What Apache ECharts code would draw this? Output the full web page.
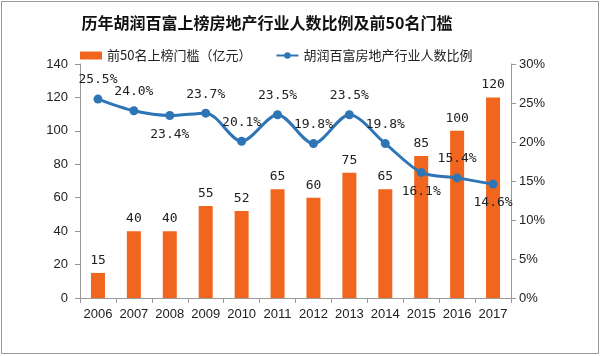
<!DOCTYPE html>
<html><head><meta charset="utf-8">
<script src="https://cdn.jsdelivr.net/npm/echarts@6/dist/echarts.min.js"></script>
<style>html,body{margin:0;padding:0;background:#fff}#c{width:600px;height:356px}</style>
</head><body><div id="c"></div>
<script>
var years = ['2006','2007','2008','2009','2010','2011','2012','2013','2014','2015','2016','2017'];
var threshold = [15,40,40,55,52,65,60,75,65,85,100,120];
var ratio = [25.5,24.0,23.4,23.7,20.1,23.5,19.8,23.5,19.8,16.1,15.4,14.6];
var ratioLabelPos = ['top','top','bottom','top','top','top','top','top','top','bottom','top','bottom'];
var leftTicks = [0,140,20];
var rightTicks = [0,30,5];

var chart = echarts.init(document.getElementById('c'), null, {renderer:'canvas'});
var numFont = '"DejaVu Sans Mono", monospace';
chart.setOption({
  animation:false,
  backgroundColor:'#fff',
  title:{text:'历年胡润百富上榜房地产行业人数比例及前50名门槛', left:262, textAlign:'center', top:10,
    textStyle:{fontSize:16, fontWeight:'bold', color:'#111', fontFamily:'"Noto Sans CJK SC", sans-serif'}},
  legend:{left:75, top:44, itemWidth:22, itemHeight:8, itemGap:24,
    textStyle:{fontSize:13, color:'#222', fontFamily:'"Noto Sans CJK SC", sans-serif'},
    data:[{name:'前50名上榜门槛（亿元）', icon:'rect'},{name:'胡润百富房地产行业人数比例'}]},
  graphic:[{type:'rect', shape:{x:1.5,y:1.5,width:597,height:352}, style:{fill:'none', stroke:'#999', lineWidth:1}, silent:true}],
  grid:{left:80, right:89, top:64, bottom:58},
  xAxis:{type:'category', data:years, boundaryGap:true,
    axisLine:{lineStyle:{color:'#999'}}, axisTick:{show:true, interval:0, alignWithLabel:false, lineStyle:{color:'#999'}},
    axisLabel:{interval:0, fontSize:13, color:'#222', margin:10, fontFamily:'"Liberation Sans", Arial, sans-serif'}},
  yAxis:[
    {type:'value', min:leftTicks[0], max:leftTicks[1], interval:leftTicks[2],
     axisLine:{show:true, lineStyle:{color:'#999'}}, axisTick:{show:true, lineStyle:{color:'#999'}}, splitLine:{show:false},
     axisLabel:{fontSize:13, color:'#222', margin:12, fontFamily:'"Liberation Sans", Arial, sans-serif'}},
    {type:'value', min:rightTicks[0], max:rightTicks[1], interval:rightTicks[2], position:'right',
     axisLine:{show:true, lineStyle:{color:'#999'}}, axisTick:{show:true, lineStyle:{color:'#999'}}, splitLine:{show:false},
     axisLabel:{fontSize:13, color:'#222', margin:8, formatter:'{value}%', fontFamily:'"Liberation Sans", Arial, sans-serif'}}
  ],
  series:[
    {name:'前50名上榜门槛（亿元）', type:'bar', data:threshold, barWidth:14, yAxisIndex:0,
     itemStyle:{color:'#F0661E'},
     label:{show:true, position:'top', distance:6, fontSize:13, color:'#222', fontFamily:numFont}},
    {name:'胡润百富房地产行业人数比例', type:'line', yAxisIndex:1, smooth:0.3,
     data:ratio.map(function(v,i){return {value:v, label:{position:ratioLabelPos[i]}};}),
     symbol:'circle', symbolSize:9,
     lineStyle:{color:'#2E75B6', width:3}, itemStyle:{color:'#2E75B6'},
     label:{show:true, fontSize:13, color:'#222', distance:8, fontFamily:numFont,
       formatter:function(p){return p.value.toFixed(1)+'%';}}, z:3}
  ]
});
</script></body></html>
